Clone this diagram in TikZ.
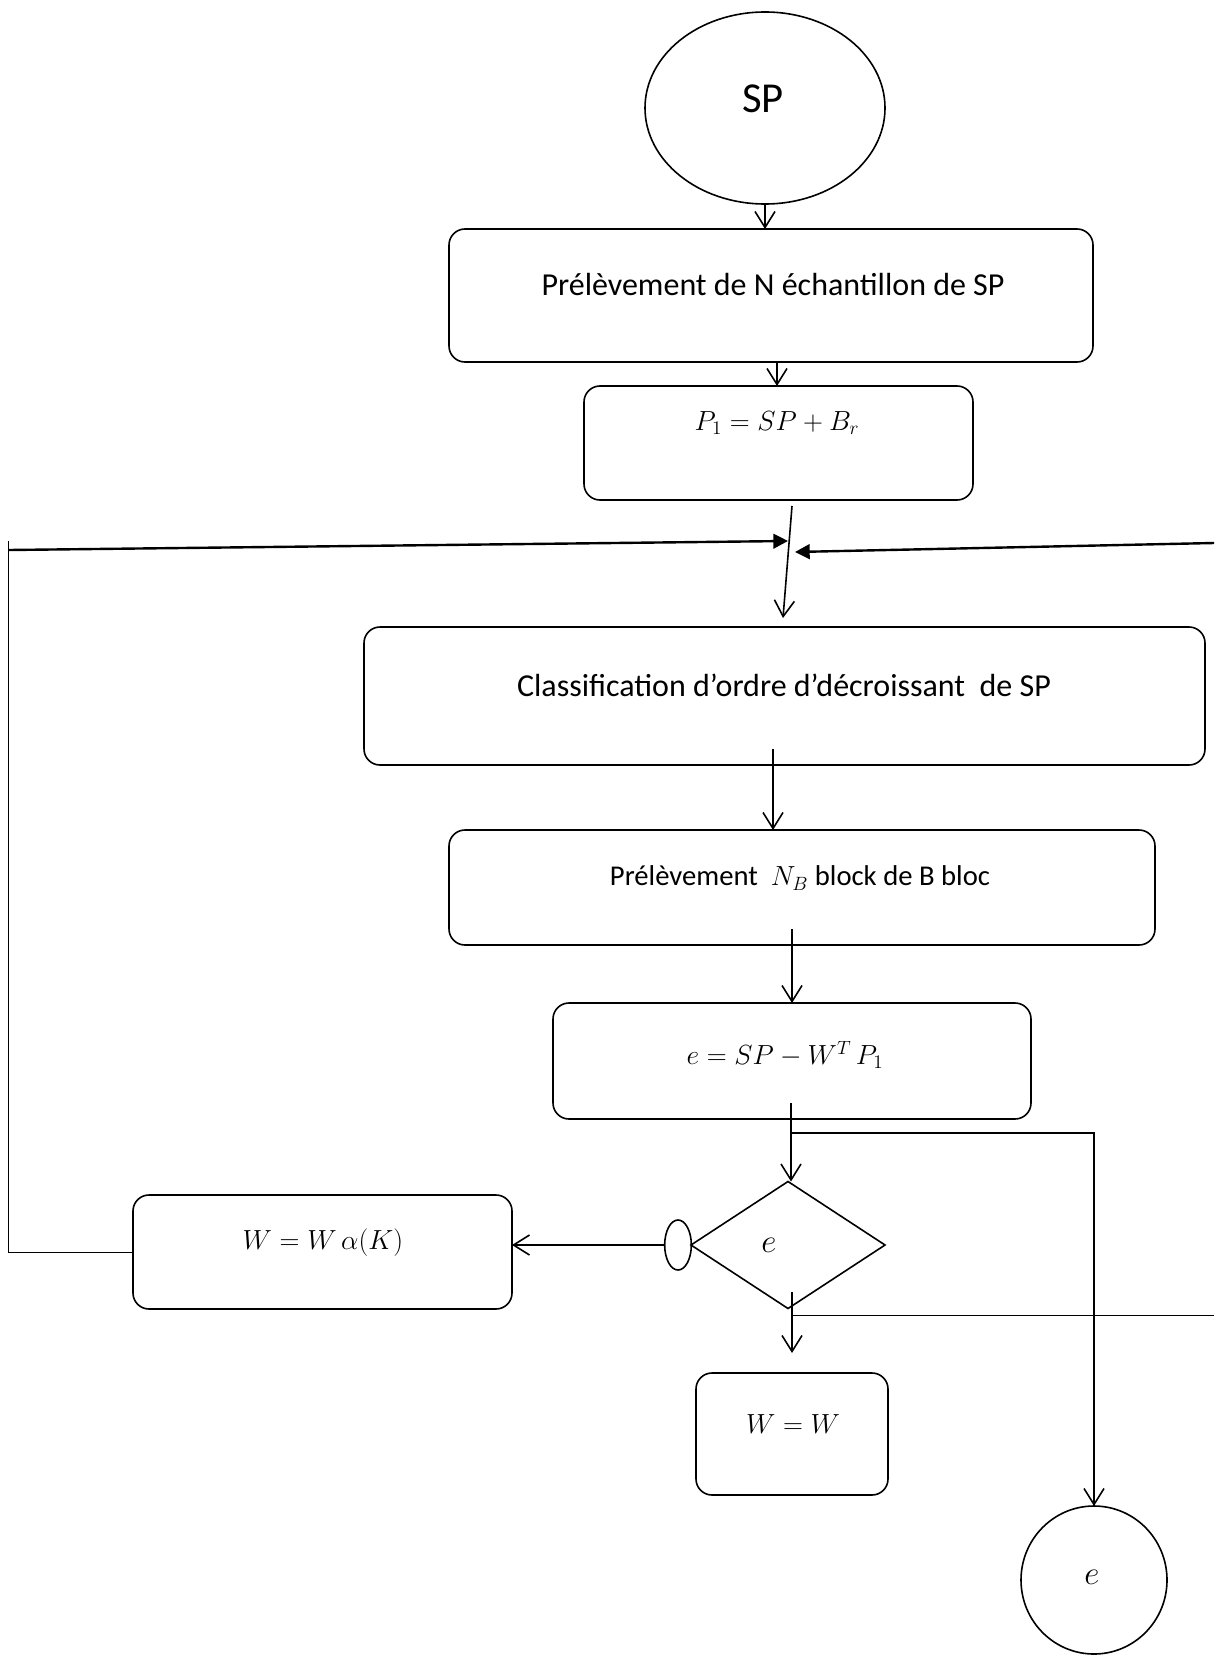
\documentclass[tikz,border=0pt]{standalone}
\usepackage{fontspec}
\setmainfont{Carlito}
\usetikzlibrary{arrows.meta,shapes.geometric,fit}

\begin{document}
\begin{tikzpicture}[x=0.75pt,y=-0.75pt,
  every node/.style={inner sep=0pt, outer sep=0pt},
  box/.style={draw, line width=1.2pt, rounded corners=12pt, inner sep=0pt},
  txt/.style={font=\fontsize{24}{28}\selectfont},
  mtxt/.style={font=\fontsize{22}{26}\selectfont},
  flow/.style={line width=1.2pt, -{Straight Barb[length=12pt,width=15pt,line width=1.2pt]}},
  looparr/.style={line width=1.8pt, -{Triangle[length=11pt,width=11pt]}},
  thinline/.style={line width=0.6pt},
]
\useasboundingbox (0,0) rectangle (1214,1658);

% start / end terminals
\node[draw, ellipse, line width=1.2pt, minimum width=180pt, minimum height=144pt] (sp) at (765,108) {};
\node[font=\fontsize{32}{36}\selectfont] (sptxt) at (763,99) {SP};

% process boxes
\node[box, fit={(449,229) (1093,362)}] (b1) {};
\node[txt] (t1) at (773,285) {Prélèvement de N échantillon de SP};
\node[box, fit={(584,386) (973,500)}] (b2) {};
\node[mtxt] (t2) at (777,423) {$P_1 = SP + B_r$};
\node[box, fit={(364,627) (1205,765)}] (b3) {};
\node[txt] (t3) at (784,685) {Classification d’ordre d’décroissant\ \ de SP};
\node[box, fit={(449,830) (1155,945)}] (b4) {};
\node[font=\fontsize{21.5}{25}\selectfont] (t4) at (800,878) {Prélèvement\ \ $N_B$ block de B bloc};
\node[box, fit={(553,1003) (1031,1119)}] (b5) {};
\node[font=\fontsize{22.5}{26}\selectfont] (t5) at (785,1055) {$e = SP - W^T\,P_1$};

% decision
\node[draw, diamond, line width=1.2pt, minimum width=145.5pt, minimum height=95.25pt] (d) at (788,1245) {};
\node[font=\fontsize{24}{28}\selectfont] (td) at (769,1245) {$e$};
\node[draw, ellipse, line width=1.2pt, minimum width=20pt, minimum height=37.5pt] (se) at (678,1245) {};

\node[box, fit={(133,1195) (512,1309)}] (b6) {};
\node[mtxt] (t6) at (323,1243) {$W = W\,\alpha(K)$};
\node[box, fit={(696,1373) (888,1495)}] (b7) {};
\node[mtxt] (t7) at (793,1424) {$W = W$};

\node[draw, ellipse, line width=1.2pt, minimum width=109.5pt, minimum height=111pt] (ce) at (1094,1580) {};
\node[font=\fontsize{24}{28}\selectfont] (tc) at (1092,1577) {$e$};

% connectors
\draw[flow] (sp.south) -- (sp.south |- b1.north);
\draw[flow] (b1.south -| t2) -- (b2.north -| t2);

\coordinate (jA) at (792,506);
\coordinate (jB) at (783,618);
\draw[flow] (jA) -- (jB);

% feedback from the update box
\coordinate (lc) at (8,1243);
\coordinate (lt) at (8,541);
\coordinate (ls) at (9,550);
\coordinate (le) at (788,541);
\draw[thinline] (b6.west) -- (b6.west -| lc) -- (lt);
\draw[looparr] (ls) -- (le);

% feedback entering from the right
\coordinate (rs) at (1214,543);
\coordinate (re) at (795,552);
\draw[looparr] (rs) -- (re);

\coordinate (c3) at (773,749);
\draw[flow] (c3) -- (c3 |- b4.north);
\coordinate (c4) at (792,929);
\draw[flow] (c4) -- (c4 |- b5.north);
\coordinate (c5) at (791,1103);
\draw[flow] (c5) -- (c5 |- d.north);

\coordinate (br) at (792,1133);
\draw[flow] (br) -- (br -| ce) -- (ce.north);

\draw[flow] (se.west) -- (se.west -| b6.east);

\coordinate (c6) at (792,1292);
\coordinate (c7) at (792,1353);
\draw[flow] (c6) -- (c7);

\coordinate (tb) at (792,1315);
\coordinate (tr) at (1214,1315);
\draw[thinline] (tb) -- (tr);
\end{tikzpicture}
\end{document}
